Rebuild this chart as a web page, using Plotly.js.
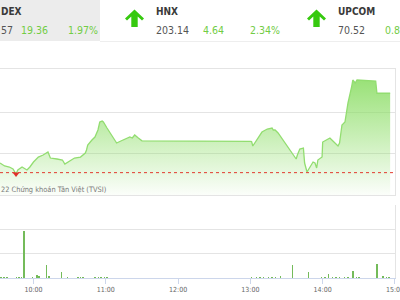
<!DOCTYPE html>
<html><head><meta charset="utf-8">
<script src="https://cdn.plot.ly/plotly-3.0.1.min.js"></script>
<style>html,body{margin:0;padding:0;background:#fff}#c{width:400px;height:300px}</style>
</head><body><div id="c"></div>
<script>
// ---- data ----
const day = '2022-11-18 ';
const priceTimes = ['09:32:12','09:36:00','09:40:00','09:43:00','09:45:30','09:47:00','09:50:30','09:52:00','09:54:36','09:57:00',
 '10:00:00','10:04:00','10:08:00','10:12:00','10:14:00','10:19:30','10:24:00','10:26:00','10:30:00','10:34:00',
 '10:39:00','10:43:00','10:44:00','10:45:00','10:48:30','10:51:00','10:53:30','10:55:00','10:57:00','10:58:00',
 '11:01:00','11:05:00','11:09:00','11:12:30','11:16:00','11:20:00','11:22:00','11:24:00','11:27:00','11:30:00',
 '13:00:00','13:01:00','13:02:00','13:05:30','13:09:36','13:14:00','13:18:00','13:19:00','13:20:30','13:23:00',
 '13:27:00','13:31:00','13:35:30','13:38:00','13:39:00','13:41:00','13:44:00','13:45:00','13:47:00','13:49:30',
 '13:52:00','13:53:36','13:55:00','13:56:00','13:59:30','14:00:00','14:03:36','14:06:00','14:08:30','14:12:42',
 '14:14:00','14:16:00','14:18:30','14:21:00','14:24:00','14:25:00','14:27:00','14:28:30','14:44:00','14:45:00','14:56:00'];
const priceValues = [985.56,984.83,984.59,984.10,982.88,983.85,984.59,984.34,983.85,984.59,
 985.80,987.02,987.51,988.24,986.78,986.54,986.29,985.32,986.05,986.78,
 987.02,988.00,988.73,989.95,991.17,991.90,993.61,995.56,995.80,995.56,
 994.10,992.15,990.44,990.93,991.41,991.90,991.66,992.39,991.66,990.98,
 990.85,990.80,989.71,991.17,993.12,993.85,994.10,993.61,993.61,992.88,
 991.17,989.22,987.51,986.54,987.51,988.98,989.22,985.56,983.37,984.59,
 985.80,985.56,984.34,986.29,987.02,990.68,991.17,991.66,990.93,989.71,
 990.44,994.83,995.56,1000.20,1004.10,1005.80,1005.07,1005.80,1005.56,1002.57,1002.57];
const refValue = 983.21;
const volTimes = ['09:33','09:35:30','09:38','09:46','09:48','09:50','09:52','09:59','10:03','10:04','10:05','10:11','10:13','10:23','10:28',
 '10:37','10:39','10:41','10:51','10:54','10:56','10:59','11:01',
 '13:01','13:05','13:08','13:11','13:15','13:18','13:21','13:25','13:35','13:48','13:59','14:02','14:05','14:08','14:11','14:14','14:18','14:21',
 '14:25','14:28','14:30','14:45','14:50','14:53','14:55'];
const volValues = [0.4,0.4,0.4,0.6,0.6,0.4,19.2,0.6,1.2,0.8,0.8,5.4,1.0,2.3,0.3,
 0.4,0.4,0.4,0.4,0.4,0.4,0.4,0.4,
 0.4,0.4,0.4,0.4,0.4,0.4,0.4,0.8,5.2,2.3,0.4,0.4,1.8,0.4,0.4,0.4,0.4,0.4,
 2.7,0.4,0.4,5.8,0.7,0.4,0.4];
const indexNames = ['DEX','HNX','UPCOM'];
const indexLevels = ['57','203.14','70.52'];
const indexChanges = ['19.36','4.64','0.82'];
const indexPcts = ['1.97%','2.34%',''];
const creditText = '22 Chứng khoán Tân Việt (TVSI)';
const priceGrid = [988, 998];
const volGrid = [10, 20, 30];

// ---- helpers ----
const toDT = t => day + (t.length === 5 ? t + ':00' : t);
const PX = x => x / 395;
const PY = y => (278 - y) / 278;
const FONT = '"DejaVu Sans Condensed", "DejaVu Sans", sans-serif';
const GREEN = '#72cc45';

let minIdx = 0;
priceValues.forEach((v, i) => { if (v < priceValues[minIdx]) minIdx = i; });

const traces = [
  {
    x: priceTimes.map(toDT), y: priceValues, type: 'scatter', mode: 'lines',
    line: {color: '#92dd70', width: 1.3}, fill: 'tozeroy',
    fillgradient: {type: 'vertical', start: 977.76, stop: 1006,
      colorscale: [[0, 'rgba(135,220,95,0.03)'], [0.5, 'rgba(135,220,95,0.45)'], [1, 'rgba(135,220,95,0.85)']]},
    xaxis: 'x', yaxis: 'y', hoverinfo: 'skip'
  },
  {
    x: [toDT(priceTimes[minIdx])], y: [priceValues[minIdx]], type: 'scatter', mode: 'markers',
    marker: {symbol: 'triangle-down', size: 6, color: '#e0302a'}, xaxis: 'x', yaxis: 'y'
  },
  {
    x: volTimes.map(toDT), y: volValues, type: 'bar', width: 70000,
    marker: {color: '#74bb5a', line: {width: 0}}, xaxis: 'x2', yaxis: 'y2'
  }
];

const xr = [day + '09:32:12', day + '15:00:01'];
const arrow = dx => {
  const pts = [[134.5, 9.5], [144, 18.5], [142, 20.5], [137.7, 16.6], [137.7, 27], [131.3, 27], [131.3, 16.6], [127, 20.5], [125, 18.5]];
  return 'M' + pts.map(p => PX(p[0] + dx) + ',' + PY(p[1])).join(' L') + ' Z';
};

const shapes = [
  {type: 'rect', xref: 'paper', yref: 'paper', x0: PX(-2), x1: PX(100), y0: PY(41), y1: PY(-2), fillcolor: '#ececec', line: {width: 0}, layer: 'below'},
  {type: 'line', xref: 'paper', yref: 'paper', x0: PX(100), x1: PX(402), y0: PY(41.5), y1: PY(41.5), line: {color: '#eeeeee', width: 1}},
  {type: 'path', xref: 'paper', yref: 'paper', path: arrow(0), fillcolor: '#36c90f', line: {width: 0}},
  {type: 'path', xref: 'paper', yref: 'paper', path: arrow(182), fillcolor: '#36c90f', line: {width: 0}},
  {type: 'line', xref: 'paper', yref: 'y', x0: 0, x1: 1, y0: refValue, y1: refValue, line: {color: '#e23a2e', width: 1, dash: 'dot'}, layer: 'above'}
];

const ann = [];
const txt = (text, x, y, color, bold, size) => ann.push({
  text: bold ? '<b>' + text + '</b>' : text, xref: 'paper', yref: 'paper', x: PX(x), y: PY(y),
  xanchor: 'left', yanchor: 'middle', showarrow: false, borderpad: 0,
  font: {family: FONT, size: size || 10.5, color: color}
});
const cols = [[0, 20, 66.7], [155, 201.7, 249.3], [336.7, 384, 430]];
indexNames.forEach((n, i) => {
  txt(n, cols[i][0], 12, '#3a3a3a', true, 10);
  txt(indexLevels[i], cols[i][0], 30.5, '#555555');
  txt(indexChanges[i], cols[i][1], 30.5, GREEN);
  if (indexPcts[i]) txt(indexPcts[i], cols[i][2], 30.5, GREEN);
});
txt(creditText, 0, 189, '#7a7a7a', false, 7.4);

const layout = {
  width: 400, height: 300, margin: {l: 0, r: 5, t: 0, b: 22},
  paper_bgcolor: '#ffffff', plot_bgcolor: 'rgba(0,0,0,0)', showlegend: false, bargap: 0,
  font: {family: FONT},
  xaxis: {type: 'date', range: xr, anchor: 'y', showticklabels: false, ticks: '', showgrid: false,
    showline: true, mirror: true, linecolor: '#e4e4e4', linewidth: 1, zeroline: false},
  yaxis: {domain: [PY(195), PY(69)], range: [977.76, 1008.49], tickvals: priceGrid, showticklabels: false,
    gridcolor: '#e4e4e4', showline: true, side: 'right', linecolor: '#e4e4e4', zeroline: false, ticks: ''},
  xaxis2: {type: 'date', range: xr, anchor: 'y2', tickformat: '%H:%M', dtick: 3600000, tick0: day + '10:00:00',
    ticks: 'outside', ticklen: 5, tickcolor: '#ccd6eb', showline: true, linecolor: '#ccd6eb', showgrid: false,
    ticklabeloverflow: 'allow',
    tickfont: {family: FONT, size: 7, color: '#666666'}, zeroline: false},
  yaxis2: {domain: [0, PY(205)], range: [0, 30.05], tickvals: volGrid, showticklabels: false, gridcolor: '#e4e4e4',
    showline: true, side: 'right', linecolor: '#e4e4e4', zeroline: false, ticks: ''},
  shapes: shapes, annotations: ann
};
Plotly.newPlot('c', traces, layout, {staticPlot: true, displayModeBar: false});
</script></body></html>
